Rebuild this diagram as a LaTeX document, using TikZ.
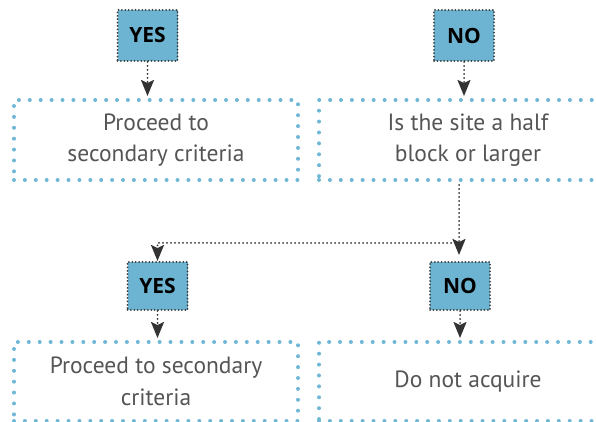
\documentclass[tikz,border=0pt]{standalone}
\usepackage{fontspec}
\setmainfont{PT Sans}
\newfontfamily\tagfont{Open Sans}
\usepackage{tikz}
\usetikzlibrary{arrows.meta, positioning}
\definecolor{dotblue}  {HTML}{6FB7D5}
\definecolor{tagfill}  {HTML}{6CB4D2}
\definecolor{tagline}  {HTML}{3A3A3A}
\definecolor{textgray} {HTML}{555555}
\definecolor{arrowcol} {HTML}{333333}
\tikzset{
  critbox/.style={
    rectangle, minimum width=#1, minimum height=80pt,
    text centered, align=center, text=textgray,
    font=\fontsize{23.5}{31.5}\selectfont,
    draw=dotblue, line width=4pt, line cap=round,
    dash pattern=on 0pt off 10.9pt
  },
  answer/.style={
    rectangle, minimum width=60pt, minimum height=#1,
    text centered, font=\tagfont\fontsize{21}{24}\selectfont\bfseries,
    fill=tagfill, draw=tagline, line width=2pt, line cap=round,
    dash pattern=on 0pt off 3.4pt
  },
  link/.style={
    -{Stealth[length=16pt, width=13pt, inset=3pt]},
    color=arrowcol, line width=2pt, line cap=round,
    dash pattern=on 0pt off 4pt
  }
}

\begin{document}
\begin{tikzpicture}[x=1pt, y=1pt]
  \clip (0,0) rectangle (596,422);

  % first question, answered both ways
  \node[critbox=284pt] (tl) at (156,282) {Proceed to\\secondary criteria};
  \node[critbox=298pt, right=17pt of tl] (tr) {Is the site a half\\block or larger};
  \node[answer=51pt] (yesT) at (147.5,386.5) {YES};
  \node[answer=51pt] (noT)  at (464,386.5) {NO};

  % second question
  \node[answer=48pt] (yesB) at (157.5,136) {YES};
  \node[answer=48pt] (noB)  at (460,136) {NO};
  \node[critbox=284pt, minimum height=79pt] (bl) at (156,40.5)
    {Proceed to secondary\\criteria};
  \node[critbox=298pt, minimum height=79pt, right=17pt of bl] (br)
    {Do not acquire};

  \draw[link, shorten >=2pt] (yesT.south) -- (yesT.south |- tl.north);
  \draw[link, shorten >=2pt] (noT.south) -- (noT.south |- tr.north);

  \coordinate (split) at (459,179);
  \draw[link, shorten <=3pt, shorten >=6pt] (split |- tr.south) -- (split |- noB.north);
  \draw[link] (split) -| (yesB.north);

  \draw[link, shorten >=2pt] (yesB.south) -- (yesB.south |- bl.north);
  \draw[link, shorten >=2pt] (noB.south) -- (noB.south |- br.north);
\end{tikzpicture}
\end{document}
